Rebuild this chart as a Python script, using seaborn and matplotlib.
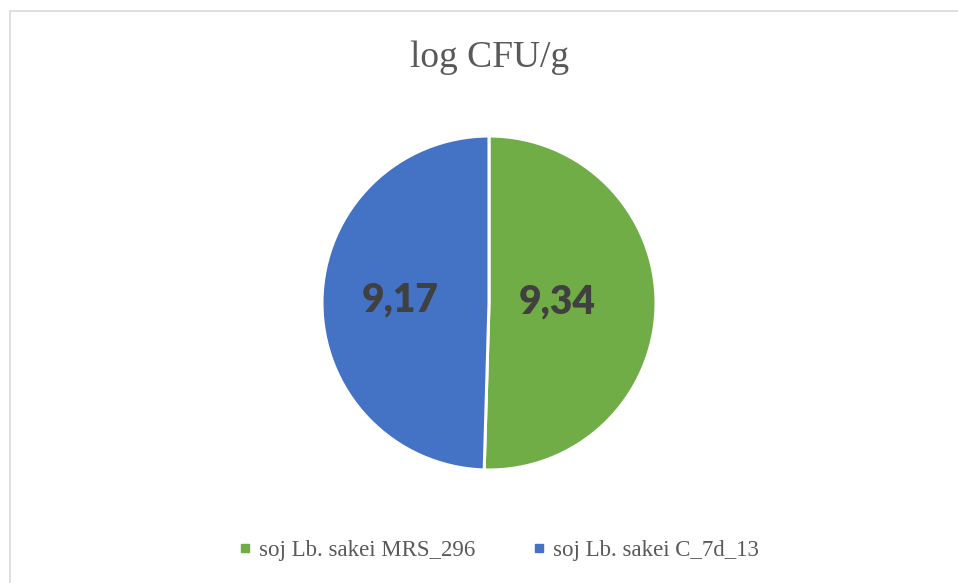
import numpy as np
import matplotlib
matplotlib.use("Agg")
import matplotlib.pyplot as plt
from matplotlib.patches import Rectangle
from matplotlib.lines import Line2D
import seaborn as sns

# ── data ─────────────────────────────────────────────────────────────────────
strains = ["soj Lb. sakei MRS_296", "soj Lb. sakei C_7d_13"]
values  = [9.34, 9.17]
title   = "log CFU/g"

# ── style ────────────────────────────────────────────────────────────────────
sns.set_theme(style="white")
COLORS = ["#70AD47", "#4472C4"]
GREY   = "#595959"
DARK   = "#404040"
SERIF  = ["Liberation Serif", "DejaVu Serif"]
label_dist = [0.41, 0.53]

fig = plt.figure(figsize=(9.58, 5.83), dpi=100)
ax = fig.add_axes([322 / 958, 113 / 583, 334 / 958, 334 / 583])

wedges, _ = ax.pie(values, colors=COLORS, startangle=90, counterclock=False,
                   radius=1, wedgeprops=dict(edgecolor="white", linewidth=2.2))
ax.set_xlim(-1, 1)
ax.set_ylim(-1, 1)
ax.set_aspect("equal")
ax.axis("off")

for w, v, d in zip(wedges, values, label_dist):
    mid = np.deg2rad((w.theta1 + w.theta2) / 2)
    ax.text(d * np.cos(mid), d * np.sin(mid) + 0.01, f"{v:.2f}".replace(".", ","),
            ha="center", va="center", fontsize=28, fontweight="heavy",
            color=DARK, family=["Lato", "DejaVu Sans"])

fig.text(490 / 958, 1 - 58 / 583, title, ha="center", va="center",
         fontsize=27, color=GREY, family=SERIF)

handles = [Line2D([], [], marker="s", ls="none", markersize=6,
                  markerfacecolor=c, markeredgecolor=c) for c in COLORS]
fig.legend(handles, strains, loc="center", bbox_to_anchor=(496 / 958, 1 - 550 / 583),
           ncol=2, frameon=False, handletextpad=0.1, columnspacing=2.3,
           handlelength=1.0, prop={"family": SERIF, "size": 16.5},
           labelcolor=GREY)

# chart border
fig.patches.append(Rectangle((9.5 / 958, -0.1), 1.0, 1.1 - 11.5 / 583,
                             transform=fig.transFigure, fill=False,
                             edgecolor="#d9d9d9", linewidth=1.2))

plt.savefig("out.png", dpi=100, facecolor="white")
plt.close()
